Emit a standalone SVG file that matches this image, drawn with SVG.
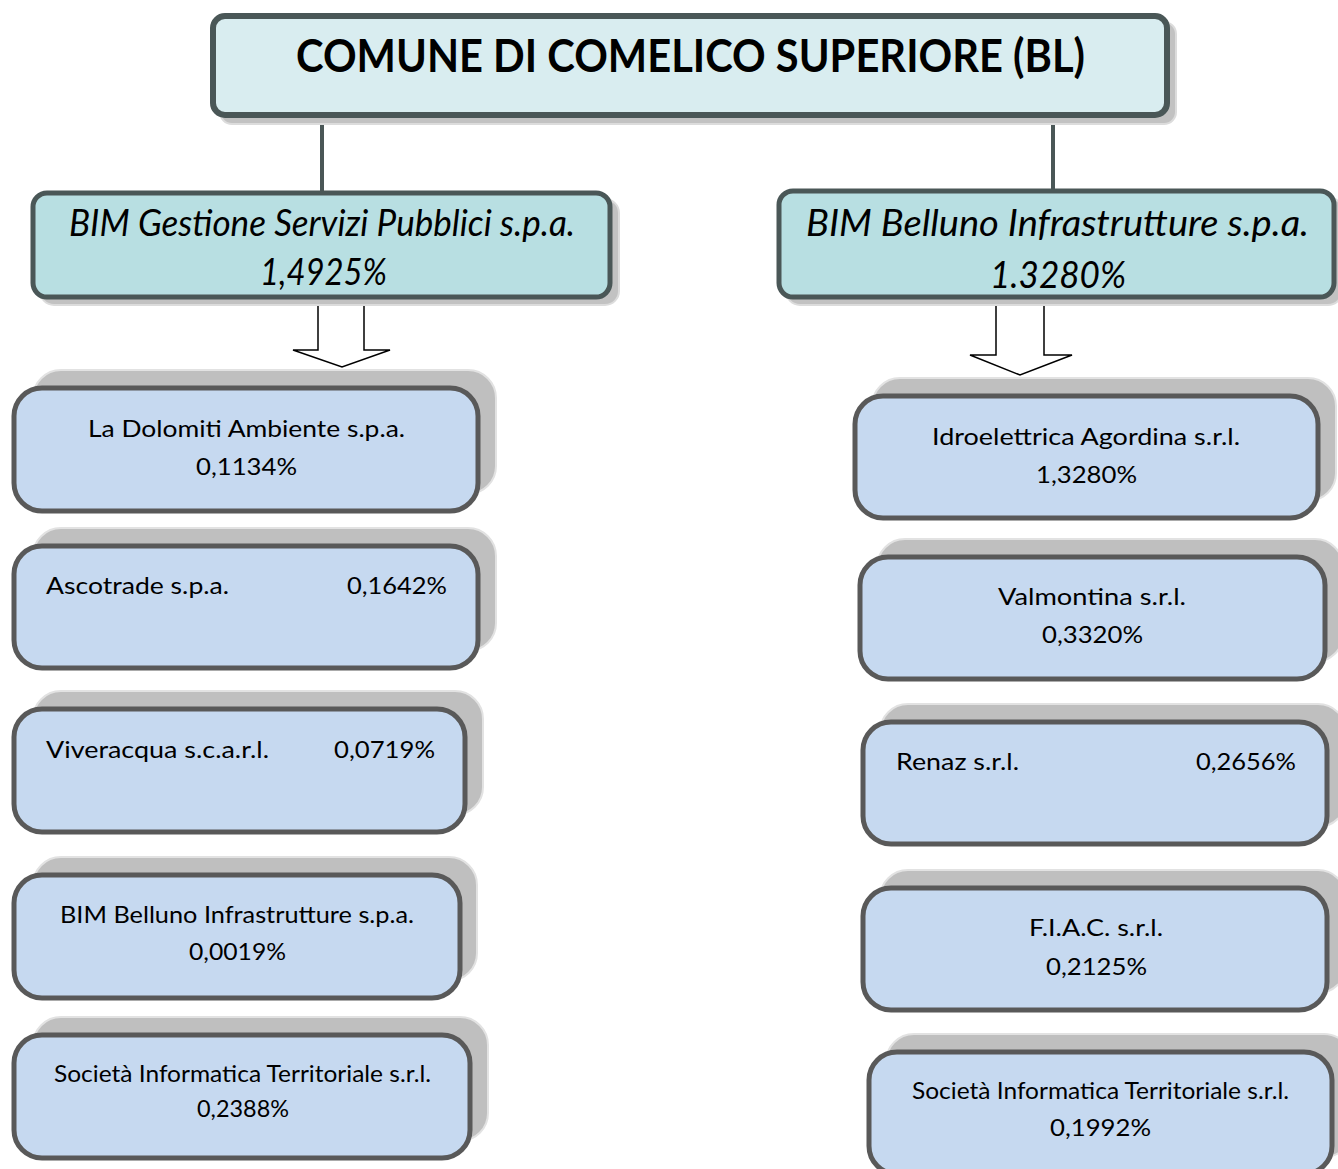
<svg xmlns="http://www.w3.org/2000/svg" width="1338" height="1169" viewBox="0 0 1338 1169">
<style>
text{font-family:Lato,"Open Sans","Liberation Sans",sans-serif;fill:#000}
.sh1{fill:#c2c2c2;stroke:#dcdcdc;stroke-width:2}
.top{fill:#d9edf0;stroke:#4a5757;stroke-width:6}
.l2{fill:#b8dfe2;stroke:#4a5757;stroke-width:5}
.sh3{fill:#bfbfbf;stroke:#e2e2e2;stroke-width:2}
.l3{fill:#c6d9f0;stroke:#595959;stroke-width:5}
.title{font-size:46px;font-weight:bold}
.it{font-size:36px;font-style:italic}
.t3{font-size:24px}
.con{stroke:#4a5757;stroke-width:4;fill:none}
.arr{fill:#fff;stroke:#000;stroke-width:1.5}
</style>
<g id="connectors">
<line class="con" x1="322" y1="115" x2="322" y2="193"/>
<line class="con" x1="1053" y1="115" x2="1053" y2="191"/>
<rect x="801" y="116" width="6" height="6" fill="#4a5757"/>
<polygon class="arr" points="318,297 364,297 364,350 390,350 342,367 293,350 318,350"/>
<polygon class="arr" points="996,297 1044,297 1044,355 1072,355 1020,375 970,355 996,355"/>
</g>
<g id="n-root">
<rect class="sh1" x="220" y="22" width="956" height="102" rx="12"/>
<rect class="top" x="213" y="16" width="954" height="99" rx="12"/>
<text class="title" x="296" y="72" textLength="789" lengthAdjust="spacingAndGlyphs">COMUNE DI COMELICO SUPERIORE (BL)</text>
</g>
<g id="n-bimgsp">
<rect class="sh1" x="40" y="199" width="579" height="106" rx="14"/>
<rect class="l2" x="33" y="193" width="577" height="104" rx="14"/>
<text class="it" x="69" y="236" textLength="506" lengthAdjust="spacingAndGlyphs">BIM Gestione Servizi Pubblici s.p.a.</text>
<text class="it" x="260" y="285" textLength="127" lengthAdjust="spacingAndGlyphs">1,4925%</text>
</g>
<g id="n-bimbi">
<rect class="sh1" x="786" y="197" width="556" height="108" rx="14"/>
<rect class="l2" x="779" y="191" width="555" height="106" rx="14"/>
<text class="it" x="806" y="236" textLength="503" lengthAdjust="spacingAndGlyphs">BIM Belluno Infrastrutture s.p.a.</text>
<text class="it" x="990" y="288" textLength="136" lengthAdjust="spacingAndGlyphs">1.3280%</text>
</g>
<g id="n-dolomiti">
<rect class="sh3" x="33" y="370" width="463" height="124" rx="28"/>
<rect class="l3" x="14" y="388" width="464" height="123" rx="28"/>
<text class="t3" x="88" y="437" textLength="317" lengthAdjust="spacingAndGlyphs">La Dolomiti Ambiente s.p.a.</text>
<text class="t3" x="196" y="475" textLength="101" lengthAdjust="spacingAndGlyphs">0,1134%</text>
</g>
<g id="n-ascotrade">
<rect class="sh3" x="33" y="528" width="463" height="123" rx="28"/>
<rect class="l3" x="14" y="546" width="464" height="122" rx="28"/>
<text class="t3" x="46" y="594" textLength="183" lengthAdjust="spacingAndGlyphs">Ascotrade s.p.a.</text>
<text class="t3" x="347" y="594" textLength="100" lengthAdjust="spacingAndGlyphs">0,1642%</text>
</g>
<g id="n-viveracqua">
<rect class="sh3" x="33" y="691" width="450" height="124" rx="28"/>
<rect class="l3" x="14" y="709" width="451" height="123" rx="28"/>
<text class="t3" x="46" y="758" textLength="223" lengthAdjust="spacingAndGlyphs">Viveracqua s.c.a.r.l.</text>
<text class="t3" x="334" y="758" textLength="101" lengthAdjust="spacingAndGlyphs">0,0719%</text>
</g>
<g id="n-bimbi2">
<rect class="sh3" x="33" y="857" width="444" height="124" rx="28"/>
<rect class="l3" x="14" y="875" width="446" height="123" rx="28"/>
<text class="t3" x="60" y="923" textLength="354" lengthAdjust="spacingAndGlyphs">BIM Belluno Infrastrutture s.p.a.</text>
<text class="t3" x="189" y="960" textLength="97" lengthAdjust="spacingAndGlyphs">0,0019%</text>
</g>
<g id="n-sit1">
<rect class="sh3" x="33" y="1017" width="455" height="124" rx="28"/>
<rect class="l3" x="14" y="1035" width="456" height="123" rx="28"/>
<text class="t3" x="54" y="1082" textLength="377" lengthAdjust="spacingAndGlyphs">Società Informatica Territoriale s.r.l.</text>
<text class="t3" x="197" y="1117" textLength="92" lengthAdjust="spacingAndGlyphs">0,2388%</text>
</g>
<g id="n-idro">
<rect class="sh3" x="872" y="378" width="464" height="123" rx="28"/>
<rect class="l3" x="855" y="396" width="463" height="122" rx="28"/>
<text class="t3" x="932" y="445" textLength="308" lengthAdjust="spacingAndGlyphs">Idroelettrica Agordina s.r.l.</text>
<text class="t3" x="1036" y="483" textLength="101" lengthAdjust="spacingAndGlyphs">1,3280%</text>
</g>
<g id="n-valmontina">
<rect class="sh3" x="877" y="539" width="466" height="123" rx="28"/>
<rect class="l3" x="860" y="557" width="465" height="122" rx="28"/>
<text class="t3" x="998" y="605" textLength="188" lengthAdjust="spacingAndGlyphs">Valmontina s.r.l.</text>
<text class="t3" x="1042" y="643" textLength="101" lengthAdjust="spacingAndGlyphs">0,3320%</text>
</g>
<g id="n-renaz">
<rect class="sh3" x="880" y="704" width="466" height="123" rx="28"/>
<rect class="l3" x="863" y="722" width="464" height="122" rx="28"/>
<text class="t3" x="896" y="770" textLength="123" lengthAdjust="spacingAndGlyphs">Renaz s.r.l.</text>
<text class="t3" x="1196" y="770" textLength="100" lengthAdjust="spacingAndGlyphs">0,2656%</text>
</g>
<g id="n-fiac">
<rect class="sh3" x="880" y="870" width="466" height="123" rx="28"/>
<rect class="l3" x="863" y="888" width="464" height="122" rx="28"/>
<text class="t3" x="1029" y="936" textLength="134" lengthAdjust="spacingAndGlyphs">F.I.A.C. s.r.l.</text>
<text class="t3" x="1046" y="975" textLength="101" lengthAdjust="spacingAndGlyphs">0,2125%</text>
</g>
<g id="n-sit2">
<rect class="sh3" x="886" y="1034" width="466" height="123" rx="28"/>
<rect class="l3" x="869" y="1052" width="463" height="122" rx="28"/>
<text class="t3" x="912" y="1099" textLength="377" lengthAdjust="spacingAndGlyphs">Società Informatica Territoriale s.r.l.</text>
<text class="t3" x="1050" y="1136" textLength="101" lengthAdjust="spacingAndGlyphs">0,1992%</text>
</g>
</svg>
